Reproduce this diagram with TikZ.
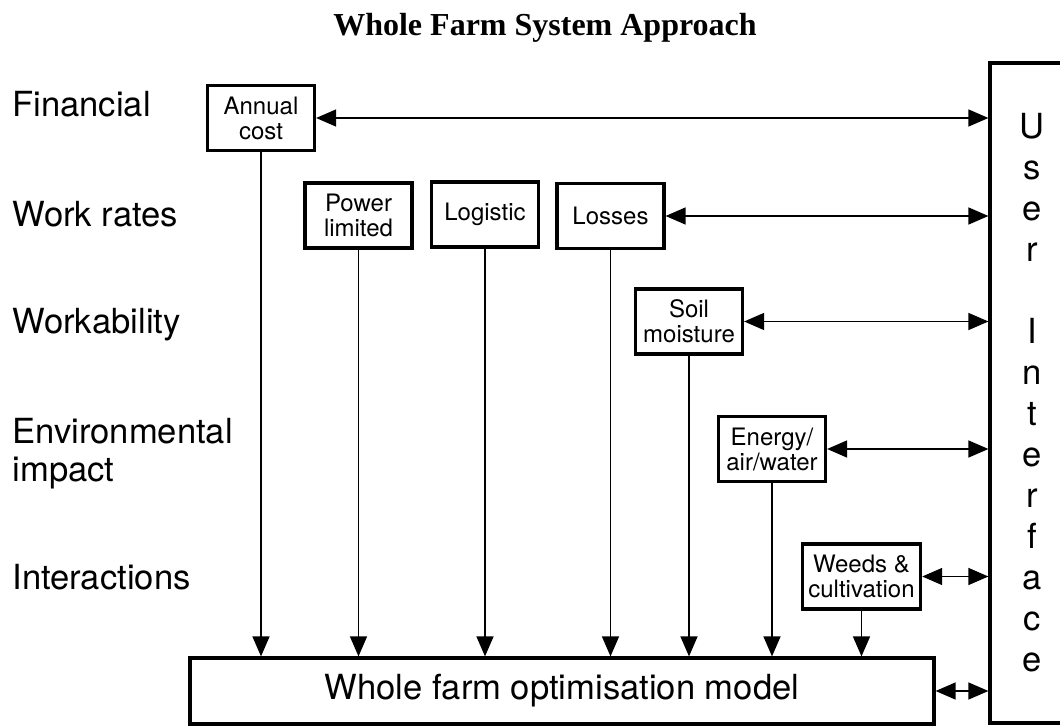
\documentclass[tikz,border=0pt]{standalone}
\usepackage{fontspec}
\setmainfont{TeX Gyre Heros}
\newfontfamily\titlefont{Liberation Serif}
\usetikzlibrary{arrows.meta}

\begin{document}
\begin{tikzpicture}[x=0.5pt,y=-0.5pt,
    >={Triangle[length=10pt,width=8.5pt]},
    box/.style={draw,line width=1.6pt,minimum width=53.5pt,minimum height=32.5pt,
        inner xsep=3pt,align=center,font=\fontsize{12}{12.5}\selectfont},
    row/.style={anchor=base west,inner sep=0pt,font=\fontsize{17.3}{19}\selectfont},
    link/.style={line width=0.7pt}]
\useasboundingbox (0,0) rectangle (1060,727);
\node (title) at (545,28) {\titlefont\bfseries\fontsize{16}{16}\selectfont Whole Farm System Approach};

\node[row] (financial) at (12,117) {Financial};
\node[row] (workrates) at (12,227) {Work rates};
\node[row] (workability) at (12,334) {Workability};
\node[row,anchor=west,align=left] (environ) at (12,454) {Environmental\\impact};
\node[row] (interact) at (12,589) {Interactions};

\node[box] (annual) at (261,118) {Annual\\cost};
\node[box] (power) at (358.5,215.5) {Power\\limited};
\node[box] (logistic) at (485,214.5) {Logistic};
\node[box] (losses) at (610.5,216) {Losses};
\node[box] (soil) at (689,321.5) {Soil\\moisture};
\node[box] (energy) at (772,449) {Energy/\\air/water};
\node[box] (weeds) at (861.5,576.5) {Weeds \&\\cultivation};

\node[draw,line width=1.6pt,minimum width=372pt,minimum height=33pt,
    font=\fontsize{17.3}{19}\selectfont] (model) at (562,691) {Whole farm optimisation model};
\node[draw,line width=1.6pt,minimum width=42pt,minimum height=330pt,align=center,
    font=\fontsize{17.3}{20.5}\selectfont] (ui) at (1032,393)
    {U\\s\\e\\r\\[20.5pt]I\\n\\t\\e\\r\\f\\a\\c\\e};

\foreach \n in {annual,power,logistic,losses,soil,energy,weeds}
    \draw[link,->] (\n.south) -- (\n.south |- model.north);
\foreach \n in {annual,losses,soil,energy,weeds,model}
    \draw[link,<->] (\n.east) -- (\n.east -| ui.west);
\end{tikzpicture}
\end{document}
